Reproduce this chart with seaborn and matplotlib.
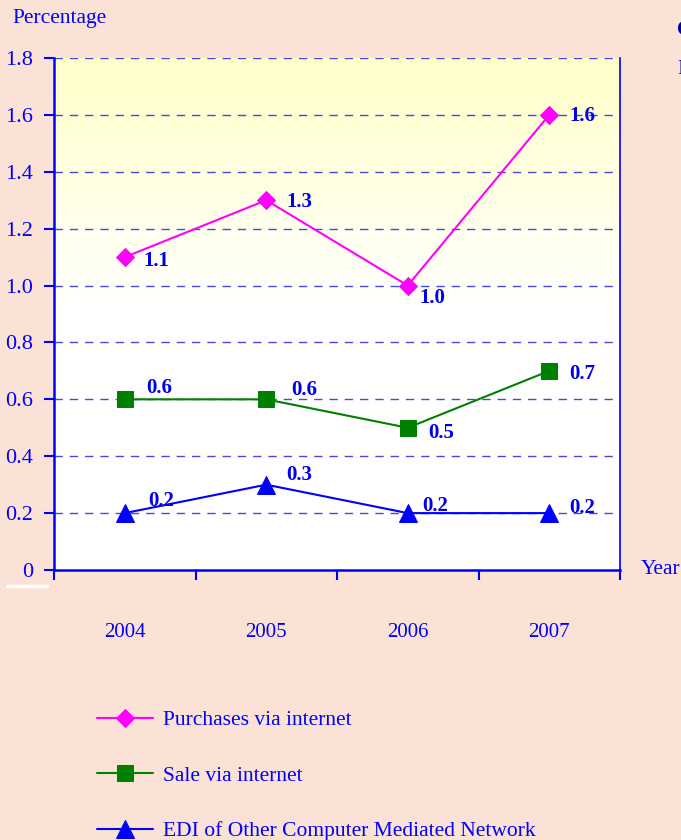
import numpy as np
import pandas as pd
import matplotlib
matplotlib.use("Agg")
import matplotlib.pyplot as plt
from matplotlib.lines import Line2D
import seaborn as sns

years = ["2004", "2005", "2006", "2007"]
purchases = [1.1, 1.3, 1.0, 1.6]
sales = [0.6, 0.6, 0.5, 0.7]
edi = [0.2, 0.3, 0.2, 0.2]
series_names = ["Purchases via internet", "Sale via internet",
                "EDI of Other Computer Mediated Network"]
yticks = [0, 0.2, 0.4, 0.6, 0.8, 1.0, 1.2, 1.4, 1.6, 1.8]
ytick_labels = ["0", "0.2", "0.4", "0.6", "0.8", "1.0", "1.2", "1.4", "1.6", "1.8"]

sns.set_theme(style="white")
plt.rcParams["font.family"] = ["Liberation Serif", "DejaVu Serif"]

BG = "#FBE2D6"
BLUE = "#0000FF"
fig = plt.figure(figsize=(6.81, 8.4), dpi=100, facecolor=BG)
ax = fig.add_axes([54/681, 1-570/840, (620-54)/681, (570-58)/840])
ax.set_facecolor("white")

# gradient background
grad = np.linspace(0, 1, 256).reshape(-1, 1)
cmap = matplotlib.colors.LinearSegmentedColormap.from_list("g", ["#FFFFFF", "#FFFFFF", "#FFFFC8"])
ax.imshow(grad, extent=[0, 1, 0, 1], transform=ax.transAxes, origin="lower",
          aspect="auto", cmap=cmap, zorder=0)

x = list(range(len(years)))
styles = [
    (purchases, "#FF00FF", "D", 9.5),
    (sales, "#008000", "s", 11),
    (edi, "#0000FF", "^", 13),
]
for (vals, col, mk, ms), name in zip(styles, series_names):
    sns.lineplot(x=x, y=vals, ax=ax, color=col, marker=mk, markersize=ms,
                 markeredgecolor=col, linewidth=1.5, label=name, zorder=3)

# data labels
offsets = [
    [(23, -3), (24, -1), (18, -9), (24, -1)],
    [(25, 8), (27, 7), (24, -4), (24, -2)],
    [(26, 9), (24, 7), (20, 5), (24, 4)],
]
for vals, offs in zip([purchases, sales, edi], offsets):
    for xi, v, (dx, dy) in zip(x, vals, offs):
        ax.annotate(f"{v:.1f}", (xi, v), xytext=(dx, dy), textcoords="offset points",
                    ha="center", va="center", fontsize=15, fontweight="bold",
                    color="#0000EE", zorder=4)

ax.set_xlim(-0.5, len(years) - 0.5)
ax.set_ylim(0, 1.8)
ax.set_yticks(yticks)
ax.set_yticklabels(ytick_labels)
ax.set_xticks([i - 0.5 for i in range(len(years) + 1)])
ax.set_xticklabels([])
ax.set_xticks(x, minor=True)
ax.set_xticklabels(years, minor=True)
ax.tick_params(axis="x", which="minor", length=0, pad=38, labelsize=15, labelcolor=BLUE)
ax.tick_params(axis="x", which="major", length=7, width=1.5, color=BLUE, direction="out")
ax.tick_params(axis="y", length=7, width=1.5, color=BLUE, direction="out", pad=8,
               labelsize=16, labelcolor=BLUE)
ax.tick_params(bottom=True, left=True, which="both")

ax.set_xlabel("")
ax.set_ylabel("")
for yv in yticks[1:]:
    ax.axhline(yv, color="#4848E0", lw=1.0, ls=(0, (6, 5)), zorder=1)
ax.grid(False)
ax.spines["top"].set_visible(False)
ax.spines["left"].set_color(BLUE)
ax.spines["left"].set_linewidth(1.8)
ax.spines["bottom"].set_color(BLUE)
ax.spines["bottom"].set_linewidth(1.8)
ax.spines["right"].set_color(BLUE)
ax.spines["right"].set_linewidth(1.2)

ax.text(1.037, 0.0, "Year", transform=ax.transAxes, ha="left", va="center",
        fontsize=15.5, color=BLUE)
fig.text(12/681, 1-18/840, "Percentage", ha="left", va="center", fontsize=15.5, color=BLUE)
fig.text(677/681, 1-30/840, "C", ha="left", va="center", fontsize=15,
         fontweight="bold", color="#0000AA")
fig.text(677/681, 1-70/840, "I", ha="left", va="center", fontsize=15, color="#0000AA")
fig.add_artist(Line2D([7/681, 47/681], [1-586/840, 1-586/840], color="white", lw=2.5))

handles, labels = ax.get_legend_handles_labels()
ax.legend(handles, labels, loc="upper left", bbox_to_anchor=(97/681, 1-710/840),
          bbox_transform=fig.transFigure, frameon=False, fontsize=15.5,
          labelcolor=BLUE, handlelength=2.6, handletextpad=0.45,
          labelspacing=1.65, borderpad=0, borderaxespad=0)

fig.savefig("out.png", dpi=100, facecolor=BG)
